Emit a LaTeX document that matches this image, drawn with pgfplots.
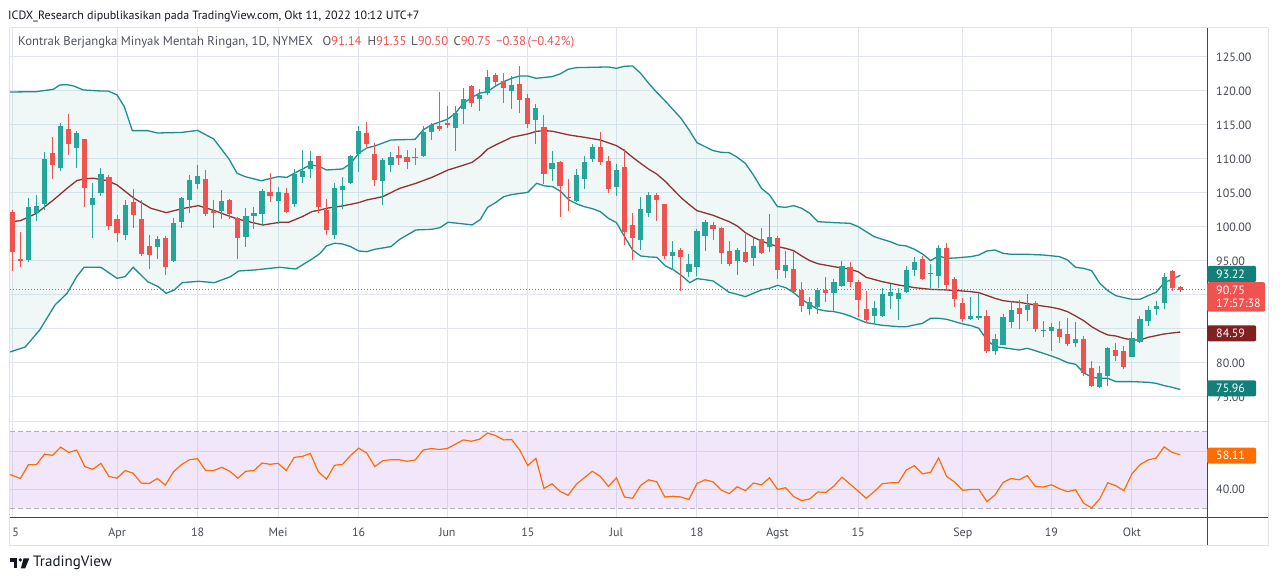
\documentclass[border=0pt]{standalone}
\usepackage{pgfplots}
\pgfplotsset{compat=1.18}
\usepackage{pgfplotstable}
\usepackage{fontspec}
\setmainfont{PT Sans}

\definecolor{greenc}{RGB}{38,166,154}
\definecolor{redc}{RGB}{239,83,80}
\definecolor{bandc}{RGB}{33,140,141}
\definecolor{basisc}{RGB}{145,50,50}
\definecolor{bandfillc}{RGB}{38,166,154}
\definecolor{gridc}{RGB}{225,230,238}
\definecolor{rsic}{RGB}{255,109,0}
\definecolor{rsifillc}{RGB}{150,60,220}
\definecolor{dashc}{RGB}{180,174,192}
\definecolor{labc}{RGB}{70,74,86}
\definecolor{legc}{RGB}{80,83,94}
\definecolor{titlec}{RGB}{19,23,34}
\definecolor{borderc}{RGB}{224,227,235}
\definecolor{darkc}{RGB}{67,70,81}
\definecolor{tealtag}{RGB}{18,128,120}
\definecolor{maroontag}{RGB}{128,32,32}

\pgfplotstableread{
i o h l c
2 95.15 104.27 94.85 102.94
3 102.11 104.71 100.88 103.09
4 103.38 111.03 102.50 110.00
6 108.63 115.30 108.29 114.85
8 111.67 114.12 108.73 113.78
10 103.29 106.42 98.43 104.27
11 105.05 108.68 104.61 107.80
14 98.87 103.97 98.09 103.24
18 97.11 98.68 95.34 98.24
20 95.00 101.28 94.85 100.59
21 100.74 104.46 99.90 104.31
22 104.02 107.65 102.11 106.91
23 106.37 109.12 105.54 107.50
26 102.40 105.44 101.23 103.82
29 98.58 102.80 97.11 101.62
30 101.67 103.00 99.76 102.06
31 101.96 105.59 100.29 105.30
33 103.87 105.93 100.39 105.15
35 103.43 108.53 102.99 107.79
36 107.40 111.32 106.52 108.24
37 108.58 111.18 107.26 109.71
40 98.82 106.52 98.24 105.78
41 105.44 107.35 102.65 106.03
42 106.42 110.59 106.28 110.44
43 110.74 114.85 108.09 114.12
46 106.81 110.15 103.24 109.85
47 109.12 111.03 108.09 110.30
51 110.44 114.85 110.30 113.97
52 114.02 115.34 112.79 115.00
55 114.56 117.80 111.18 116.81
56 117.35 120.44 115.15 118.82
58 118.82 120.34 117.06 119.41
59 119.66 123.09 119.36 122.01
62 120.05 122.21 117.40 120.88
65 115.78 118.09 112.25 117.45
67 108.58 111.23 106.81 109.36
70 103.87 108.53 103.73 107.65
71 107.11 110.44 105.64 109.56
72 110.05 112.21 109.56 111.77
75 105.93 109.27 104.61 108.38
78 98.14 104.46 96.67 102.65
79 102.11 105.15 101.52 104.71
82 95.74 97.94 93.68 96.32
84 93.43 96.03 92.70 94.56
85 94.17 99.66 92.79 99.41
86 98.73 101.03 96.52 100.74
90 95.05 96.91 92.99 96.62
92 95.44 98.58 94.26 97.21
94 97.11 101.91 96.32 98.48
96 93.58 96.47 92.50 94.41
99 87.99 89.66 87.06 88.97
100 88.19 90.98 87.21 90.74
102 90.34 92.30 87.70 91.91
103 91.32 95.00 91.23 94.26
107 86.91 89.12 85.93 88.04
108 86.91 90.98 86.80 90.15
109 89.85 91.62 87.99 90.44
110 89.46 90.98 86.32 90.25
111 90.49 94.26 90.34 93.68
112 93.68 95.54 92.79 94.85
114 93.09 94.56 90.98 93.24
115 92.79 97.40 90.98 96.86
119 86.52 89.76 86.32 86.91
120 86.67 90.25 86.32 86.91
122 81.81 84.27 81.23 83.53
123 82.70 87.21 82.60 86.72
124 86.08 89.12 85.15 87.80
126 87.80 90.15 86.23 88.48
128 84.70 86.23 83.77 84.85
129 84.76 85.93 81.81 85.25
132 83.00 86.03 82.40 83.53
135 76.42 79.56 76.32 78.53
136 78.03 82.40 76.62 82.16
139 80.93 84.61 80.83 83.68
140 83.14 86.91 82.99 86.47
141 86.23 88.38 85.44 87.80
142 88.00 89.17 87.06 88.38
143 88.87 93.29 87.99 92.65
}\upc

\pgfplotstableread{
i o h l c
0 102.26 102.50 93.58 96.37
1 95.25 99.22 94.17 95.00
5 110.83 113.24 107.06 109.12
7 114.41 116.62 110.59 112.26
9 112.94 113.00 102.89 105.79
12 107.31 107.65 99.56 100.20
13 101.13 101.77 97.80 99.17
15 103.68 105.59 99.90 101.81
16 101.18 103.97 95.74 96.03
17 97.21 98.82 93.87 95.93
19 98.38 98.60 93.00 94.17
24 107.06 108.38 101.57 101.96
25 102.40 103.97 99.90 102.11
27 103.97 104.12 101.23 101.96
28 101.32 101.52 95.29 98.43
32 105.15 107.90 103.73 104.61
34 105.00 105.79 102.01 102.21
38 110.44 110.50 102.11 102.99
39 102.50 104.12 98.82 99.56
44 113.82 115.49 111.72 112.21
45 110.74 112.30 106.03 106.91
48 110.59 111.91 109.12 110.20
49 110.30 111.32 108.53 109.61
50 110.30 111.62 109.12 110.15
53 114.85 119.85 114.12 114.41
54 115.34 117.80 114.56 115.05
57 120.74 120.88 117.65 118.28
60 122.35 122.60 120.74 121.37
61 121.42 122.60 118.28 120.49
63 121.03 123.68 116.72 118.73
64 118.92 119.56 114.61 115.20
66 114.71 116.47 106.32 107.84
68 109.56 109.71 101.52 106.08
69 104.46 107.06 102.40 104.22
73 111.77 114.02 109.12 109.56
74 109.71 110.44 105.05 105.64
76 108.82 111.47 97.40 99.31
77 100.29 102.06 95.20 98.43
80 104.71 105.05 100.93 104.02
81 103.38 103.45 95.34 95.74
83 96.62 96.91 90.64 95.64
87 100.25 100.74 98.09 99.76
88 99.85 99.95 94.56 96.23
89 96.47 97.94 94.26 94.61
91 96.32 98.97 94.76 94.85
93 98.24 99.85 96.03 96.18
95 98.38 98.68 92.35 93.73
97 93.82 96.47 90.39 90.49
98 90.78 91.91 87.55 88.43
101 90.74 92.60 89.02 90.34
104 94.07 94.85 91.23 91.96
105 91.91 92.21 86.72 89.26
106 87.89 90.64 85.83 86.32
113 95.25 95.74 92.21 92.35
116 96.86 97.60 90.74 91.52
117 92.35 92.60 88.29 89.46
118 88.77 89.51 86.08 86.52
121 86.91 87.80 81.52 81.81
125 88.04 89.27 85.00 87.26
127 88.87 89.17 84.61 85.00
130 85.05 86.23 82.89 83.87
131 84.27 86.62 82.50 82.80
133 83.53 83.97 78.09 78.58
134 79.31 80.29 76.42 76.62
137 81.91 82.89 80.34 81.03
138 81.77 82.50 79.17 79.46
144 93.53 93.68 90.64 90.98
145 91.14 91.35 90.50 90.75
}\dnc

\begin{document}
\begin{tikzpicture}
\useasboundingbox (0pt,0pt) rectangle (1280pt,581pt);
\fill[white] (0pt,0pt) rectangle (1280pt,581pt);

\pgfplotsset{
  tvaxis/.style={
    scale only axis, anchor=south west, width=1197pt,
    xmin=-0.29, xmax=148.32,
    axis line style={draw=none}, major tick length=0pt,
    xtick={0,13,23,33,43,54,64,75,85,95,105,118,129,139},
    xmajorgrids, ymajorgrids, major grid style={gridc, line width=1pt},
    yticklabel pos=right,
    yticklabel style={anchor=west, inner sep=0pt, xshift=9pt,
      font=\fontsize{12}{14}\selectfont, text=labc},
  }
}

% ---------------- price pane ----------------
\begin{axis}[tvaxis, at={(10pt,160pt)}, height=393pt,
  ymin=71.47, ymax=129.26, ytick={75,80,...,125},
  yticklabels={75.00,80.00,,,95.00,100.00,105.00,110.00,115.00,120.00,125.00},
  xticklabels={}]

% band background
\addplot[draw=none, fill=bandfillc, fill opacity=0.07] coordinates {
(-0.29,119.85) (0,119.85) (3,119.9) (5.1,120.25) (5.9,120.88) (6.75,120.93) (7.6,120.74)
(8.8,120.15) (10.9,120.0) (11.9,120.0) (13,119.41) (13.9,117.7) (14.9,114.17) (16.8,114.17)
(18,113.82) (21,113.9) (23,114.2) (25,112.94) (26.9,110.0) (27.9,107.9) (28.9,107.4)
(30.9,106.8) (33,107.4) (34.1,107.3) (35,107.9) (37,109.12) (38,108.97) (39,108.38)
(41,108.53) (42,109.36) (43,110.83) (44,111.62) (45,111.91) (47,112.79) (50,112.89)
(51,114.27) (52,115.0) (54,115.83) (55,116.72) (56,118.19) (57,119.02) (58,119.66)
(59,119.9) (60,120.74) (61,121.37) (62,121.86) (63,122.21) (64,122.21) (65,121.86)
(67,122.11) (68,122.5) (69,123.19) (70,123.43) (72,123.48) (74,123.53) (75,123.33)
(76,123.63) (77,123.68) (78,122.6) (79,121.13) (80,119.8) (81,118.6) (82,117.3) (83,116.0)
(84,114.3) (85,112.4) (86,111.81) (87,111.23) (88,110.98) (89,110.93) (90,110.25)
(91,109.36) (92,107.65) (93,105.69) (94,104.71) (95,102.99) (96,102.89) (97,103.14)
(98,102.75) (99,102.01) (100,100.78) (102,100.64) (104,100.54) (105,100.05) (106,99.31)
(107,98.58) (108,98.19) (109,97.84) (110,97.35) (111,97.2) (112,96.72) (113,96.03)
(114,95.05) (115,95.74) (116,95.39) (117,95.44) (118,95.54) (119,95.64) (120,95.88)
(121,96.47) (122,96.62) (123,96.13) (124,95.98) (126,95.98) (128,95.88) (130,95.64)
(131,95.15) (132,94.07) (133,93.92) (134,93.58) (135,91.72) (136,90.64) (137,89.9)
(138,89.61) (139,89.36) (140,89.36) (141,89.9) (142,90.39) (143,91.81) (144,92.3) (145,92.9)
(145,76.1) (144,76.42) (143,76.67) (142,77.01) (141,77.16) (139,77.26) (137,77.26)
(136,77.75) (135,77.75) (134,77.9) (133,78.58) (132,79.81) (131,80.05) (130,80.59)
(129,81.03) (128,81.42) (127,81.81) (126,82.16) (125,81.91) (123,82.25) (122,82.4)
(121,83.38) (120,85.1) (119,85.5) (118,85.74) (117,86.08) (116,86.42) (115,86.57)
(114,86.57) (113,85.83) (112,85.59) (111,85.34) (110,85.34) (108,85.54) (107,85.74)
(106,85.93) (105,86.42) (104,86.91) (103,87.3) (102,87.55) (101,87.65) (100,87.89)
(99,88.6) (98,89.36) (97,90.34) (96,91.08) (95,91.42) (94,90.98) (93,90.74) (92,90.25)
(91,89.75) (90,90.1) (89,90.39) (88,91.23) (87,92.06) (86,92.25) (85,92.4) (84.1,91.81)
(83.1,92.84) (82.1,93.68) (81.1,94.26) (80,95.54) (79,95.6) (78,95.74) (77,96.62)
(76,98.58) (75,100.64) (74,101.27) (73,102.25) (72,102.7) (71,102.99) (70.1,103.38)
(69.1,103.97) (68.1,105.2) (67.1,105.93) (66.1,106.03) (65.1,106.42) (64,105.1)
(62,104.76) (61,104.46) (60,103.58) (59,102.89) (58.1,101.1) (57.1,100.3) (56.1,100.44)
(54.1,100.69) (53.1,99.9) (52.1,99.66) (50.1,99.56) (48.1,98.19) (47,97.11) (45,96.72)
(44,96.37) (43,96.47) (42,97.11) (41,97.5) (40,97.6) (39,97.21) (38.2,96.1) (37.2,95.29)
(35.2,93.82) (33.2,94.07) (30.1,93.68) (28.1,93.53) (27.1,92.7) (25.1,91.81) (23.1,92.01)
(21.1,91.81) (20.1,90.74) (19.1,90.25) (18.1,91.23) (16.8,91.96) (15,94.07) (14,92.7)
(13,92.45) (11,94.07) (8.9,94.07) (8,92.7) (6.8,90.25) (5.3,88.53) (3.4,84.85)
(1.6,82.35) (-0.29,81.62)
};

\addplot[bandc, line width=1.3pt] coordinates {
(-0.29,119.85) (0,119.85) (3,119.9) (5.1,120.25) (5.9,120.88) (6.75,120.93) (7.6,120.74)
(8.8,120.15) (10.9,120.0) (11.9,120.0) (13,119.41) (13.9,117.7) (14.9,114.17) (16.8,114.17)
(18,113.82) (21,113.9) (23,114.2) (25,112.94) (26.9,110.0) (27.9,107.9) (28.9,107.4)
(30.9,106.8) (33,107.4) (34.1,107.3) (35,107.9) (37,109.12) (38,108.97) (39,108.38)
(41,108.53) (42,109.36) (43,110.83) (44,111.62) (45,111.91) (47,112.79) (50,112.89)
(51,114.27) (52,115.0) (54,115.83) (55,116.72) (56,118.19) (57,119.02) (58,119.66)
(59,119.9) (60,120.74) (61,121.37) (62,121.86) (63,122.21) (64,122.21) (65,121.86)
(67,122.11) (68,122.5) (69,123.19) (70,123.43) (72,123.48) (74,123.53) (75,123.33)
(76,123.63) (77,123.68) (78,122.6) (79,121.13) (80,119.8) (81,118.6) (82,117.3) (83,116.0)
(84,114.3) (85,112.4) (86,111.81) (87,111.23) (88,110.98) (89,110.93) (90,110.25)
(91,109.36) (92,107.65) (93,105.69) (94,104.71) (95,102.99) (96,102.89) (97,103.14)
(98,102.75) (99,102.01) (100,100.78) (102,100.64) (104,100.54) (105,100.05) (106,99.31)
(107,98.58) (108,98.19) (109,97.84) (110,97.35) (111,97.2) (112,96.72) (113,96.03)
(114,95.05) (115,95.74) (116,95.39) (117,95.44) (118,95.54) (119,95.64) (120,95.88)
(121,96.47) (122,96.62) (123,96.13) (124,95.98) (126,95.98) (128,95.88) (130,95.64)
(131,95.15) (132,94.07) (133,93.92) (134,93.58) (135,91.72) (136,90.64) (137,89.9)
(138,89.61) (139,89.36) (140,89.36) (141,89.9) (142,90.39) (143,91.81) (144,92.3) (145,92.9)
};
\addplot[bandc, line width=1.3pt] coordinates {
(-0.29,81.62) (1.6,82.35) (3.4,84.85) (5.3,88.53) (6.8,90.25) (8,92.7) (8.9,94.07)
(11,94.07) (13,92.45) (14,92.7) (15,94.07) (16.8,91.96) (18.1,91.23) (19.1,90.25)
(20.1,90.74) (21.1,91.81) (23.1,92.01) (25.1,91.81) (27.1,92.7) (28.1,93.53) (30.1,93.68)
(33.2,94.07) (35.2,93.82) (37.2,95.29) (38.2,96.1) (39,97.21) (40,97.6) (41,97.5)
(42,97.11) (43,96.47) (44,96.37) (45,96.72) (47,97.11) (48.1,98.19) (50.1,99.56)
(52.1,99.66) (53.1,99.9) (54.1,100.69) (56.1,100.44) (57.1,100.3) (58.1,101.1) (59,102.89)
(60,103.58) (61,104.46) (62,104.76) (64,105.1) (65.1,106.42) (66.1,106.03) (67.1,105.93)
(68.1,105.2) (69.1,103.97) (70.1,103.38) (71,102.99) (72,102.7) (73,102.25) (74,101.27)
(75,100.64) (76,98.58) (77,96.62) (78,95.74) (79,95.6) (80,95.54) (81.1,94.26)
(82.1,93.68) (83.1,92.84) (84.1,91.81) (85,92.4) (86,92.25) (87,92.06) (88,91.23)
(89,90.39) (90,90.1) (91,89.75) (92,90.25) (93,90.74) (94,90.98) (95,91.42) (96,91.08)
(97,90.34) (98,89.36) (99,88.6) (100,87.89) (101,87.65) (102,87.55) (103,87.3) (104,86.91)
(105,86.42) (106,85.93) (107,85.74) (108,85.54) (110,85.34) (111,85.34) (112,85.59)
(113,85.83) (114,86.57) (115,86.57) (116,86.42) (117,86.08) (118,85.74) (119,85.5)
(120,85.1) (121,83.38) (122,82.4) (123,82.25) (125,81.91) (126,82.16) (127,81.81)
(128,81.42) (129,81.03) (130,80.59) (131,80.05) (132,79.81) (133,78.58) (134,77.9)
(135,77.75) (136,77.75) (137,77.26) (139,77.26) (141,77.16) (142,77.01) (143,76.67)
(144,76.42) (145,76.1)
};

\addplot[basisc, line width=1.3pt] coordinates {
(-0.29,100.7) (0,100.79) (1,100.93) (3,102.0) (5.1,103.97) (6.8,105.69) (8,106.81)
(9,107.11) (10.1,107.16) (11.8,106.81) (13,106.18) (15.1,104.22) (17.2,102.75)
(19.1,102.11) (21.1,102.7) (23.1,103.14) (25.1,102.4) (27.1,101.52) (28.1,101.13)
(31.1,100.29) (33.2,100.69) (34.3,100.69) (36,101.52) (37.2,102.26) (38.2,102.5)
(39.25,102.8) (41,103.09) (43,103.58) (44,103.97) (46,104.46) (48.1,105.69) (50.1,106.42)
(52.1,107.3) (54.1,108.38) (56.1,109.12) (57.1,109.51) (58.1,110.4) (59,111.45)
(60,112.06) (62,113.19) (64,113.68) (65.1,114.07) (66.1,114.17) (67.1,114.07)
(69.1,113.53) (71,113.19) (73,112.79) (75,111.96) (76,111.23) (77,110.25) (78,109.36)
(79,108.5) (80,107.79) (81.1,106.67) (82.1,105.44) (83.1,104.22) (84.1,103.24) (85,102.4)
(87,101.72) (89,100.78) (90,100.15) (91,99.17) (92,98.48) (93,97.94) (94,97.5) (95,97.11)
(96,96.86) (97,96.52) (98,95.74) (99,95.05) (100,94.6) (102,94.17) (104,93.77) (105,93.43)
(106,92.6) (108,91.96) (110,91.47) (112,91.08) (114,90.83) (116,90.74) (118,90.59)
(119,90.49) (120,90.34) (122,89.51) (123,89.17) (124,89.02) (125,88.92) (127,88.53)
(129,88.19) (130,87.94) (131,87.55) (132,86.91) (133,86.23) (134,85.34) (135,84.66)
(136,84.12) (137,83.97) (138,83.63) (139,83.38) (140,83.38) (141,83.77) (143,84.27)
(145,84.55)
};

% wicks
\addplot[greenc, line width=1pt, quiver={u=0, v=\thisrow{h}-\thisrow{l}}] table[x=i, y=l] {\upc};
\addplot[redc, line width=1pt, quiver={u=0, v=\thisrow{h}-\thisrow{l}}] table[x=i, y=l] {\dnc};
% bodies
\addplot[greenc, line width=5.2pt, quiver={u=0, v=\thisrow{c}-\thisrow{o}}] table[x=i, y=o] {\upc};
\addplot[redc, line width=5.2pt, quiver={u=0, v=\thisrow{c}-\thisrow{o}}] table[x=i, y=o] {\dnc};

% last price line
\addplot[redc, line width=1pt, dash pattern=on 1pt off 2pt] coordinates {(-0.29,90.75) (148.32,90.75)};
\end{axis}

% ---------------- RSI pane ----------------
\begin{axis}[tvaxis, at={(10pt,63pt)}, height=96pt,
  ymin=25.03, ymax=75.23, ytick={40,60}, yticklabels={40.00,},
  xticklabels={\phantom{1}5,Apr,18,Mei,16,Jun,15,Jul,18,Agst,15,Sep,19,Okt},
  xticklabel style={anchor=base, yshift=-18pt, font=\fontsize{12}{14}\selectfont, text=labc}]
\addplot[draw=none, fill=rsifillc, fill opacity=0.12] coordinates {(-0.29,30) (148.32,30) (148.32,70) (-0.29,70) (-0.29,30)};
\addplot[dashc, line width=1pt, dash pattern=on 5pt off 3pt] coordinates {(-0.29,70) (148.32,70)};
\addplot[dashc, line width=1pt, dash pattern=on 5pt off 3pt] coordinates {(-0.29,30) (148.32,30)};
\addplot[rsic, line width=1.2pt] coordinates {
(-0.29,47.76) (1,45.69) (2,52.93) (3,52.93) (4,58.45) (5,57.76) (6,62.07) (7,59.31) (8,60.52)
(9,51.9) (10,50.52) (11,53.62) (12,46.72) (13,45.86) (14,49.83) (15,48.45) (16,43.28)
(17,43.1) (18,45.69) (19,42.24) (20,49.14) (21,52.93) (22,55.52) (23,56.03) (24,49.83)
(25,49.83) (26,51.55) (27,49.48) (28,45.86) (29,49.48) (30,49.83) (31,53.79) (32,53.1)
(33,53.62) (34,49.83) (35,56.72) (36,57.24) (37,58.79) (38,49.14) (39,45.34) (40,52.59)
(41,53.1) (42,57.76) (43,61.55) (44,58.97) (45,51.9) (46,55.0) (47,55.52) (48,55.52)
(49,54.66) (50,55.34) (51,60.52) (52,61.38) (53,60.86) (54,61.38) (55,63.62) (56,65.86)
(57,65.17) (58,66.21) (59,69.48) (60,68.1) (61,65.86) (62,66.03) (63,60.52) (64,52.41)
(65,56.21) (66,40.52) (67,42.93) (68,38.97) (69,36.9) (70,42.59) (71,46.03) (72,49.48)
(73,46.8) (74,41.55) (75,46.03) (76,36.03) (77,35.34) (78,42.07) (79,45.0) (80,43.97)
(81,36.03) (82,36.38) (83,36.03) (84,34.66) (85,43.1) (86,45.0) (87,43.97) (88,39.66)
(89,37.76) (90,41.38) (91,39.31) (92,43.28) (93,42.41) (94,46.03) (95,40.0) (96,40.86)
(97,36.21) (98,34.14) (99,35.0) (100,38.62) (101,38.45) (102,41.72) (103,46.38) (104,42.76)
(105,39.14) (106,35.34) (107,38.79) (108,42.93) (109,43.45) (110,43.45) (111,50.17)
(112,52.41) (113,48.1) (114,48.97) (115,56.38) (116,46.72) (117,43.79) (118,39.48)
(119,40.0) (120,40.0) (121,33.62) (122,37.07) (123,43.62) (124,45.69) (125,45.0)
(126,47.24) (127,41.55) (128,41.21) (129,42.41) (130,40.34) (131,38.79) (132,39.83)
(133,32.76) (134,30.34) (135,35.0) (136,43.45) (137,41.9) (138,39.31) (139,48.1)
(140,52.93) (141,55.34) (142,56.38) (143,62.24) (144,59.31) (145,58.11)
};
\end{axis}

% ---------------- frame ----------------
\draw[borderc, line width=1pt] (9.5pt,553pt) -- (1268pt,553pt);
\draw[borderc, line width=1pt] (9.5pt,553pt) -- (9.5pt,35.5pt) -- (1268pt,35.5pt) -- (1268pt,553pt);
\draw[borderc, line width=1pt] (9.5pt,159.5pt) -- (1268pt,159.5pt);
\draw[darkc, line width=1pt] (1207pt,553pt) -- (1207pt,36pt);
\draw[darkc, line width=1pt] (10pt,63pt) -- (1268pt,63pt);

% ---------------- price tags ----------------
\tikzset{tag/.style={anchor=west, text=white, font=\fontsize{12}{14}\selectfont,
  inner xsep=9pt, inner ysep=0pt, text width=31pt, minimum height=16pt, rounded corners=2pt}}
\node[tag, fill=tealtag] at (1207pt,307pt) {93.22};
\node[tag, fill=redc, text width=40pt, minimum height=29.5pt, align=left] at (1207pt,284pt) {90.75\\[-1pt]17:57:38};
\node[tag, fill=maroontag] at (1207pt,247.7pt) {84.59};
\node[tag, fill=tealtag] at (1207pt,192.7pt) {75.96};
\node[tag, fill=rsic] at (1207pt,125.3pt) {58.11};

% ---------------- header ----------------
\node[anchor=base west, inner sep=0pt, font=\fontsize{12}{14}\selectfont, text=titlec] at (8pt,561.7pt)
  {ICDX\_Research dipublikasikan pada TradingView.com, Okt 11, 2022 10:12 UTC+7};
\begin{scope}[every node/.style={anchor=base west, inner sep=0pt, font=\fontsize{12.7}{14}\selectfont, text=legc}]
\node at (18pt,535.3pt) {Kontrak Berjangka Minyak Mentah Ringan, 1D, NYMEX};
\node at (322.3pt,535.3pt) {O\textcolor{redc}{91.14}};
\node at (367.3pt,535.3pt) {H\textcolor{redc}{91.35}};
\node at (411pt,535.3pt) {L\textcolor{redc}{90.50}};
\node at (453.3pt,535.3pt) {C\textcolor{redc}{90.75}};
\node at (496pt,535.3pt) {\textcolor{redc}{−0.38}};
\node at (527.3pt,535.3pt) {\textcolor{redc}{(−0.42\%)}};
\end{scope}

% ---------------- logo ----------------
\fill[titlec] (10pt,22.7pt) rectangle (17.3pt,19.4pt);
\fill[titlec] (13.6pt,19.4pt) rectangle (17.3pt,12.7pt);
\fill[titlec] (20.3pt,21pt) circle (1.8pt);
\fill[titlec] (23.6pt,22.7pt) -- (29.3pt,22.7pt) -- (25.2pt,12.7pt) -- (20.9pt,12.7pt) -- cycle;
\node[anchor=west, inner sep=0pt, font=\fontsize{15}{17}\selectfont, text=titlec] at (33pt,18pt) {TradingView};
\end{tikzpicture}
\end{document}
